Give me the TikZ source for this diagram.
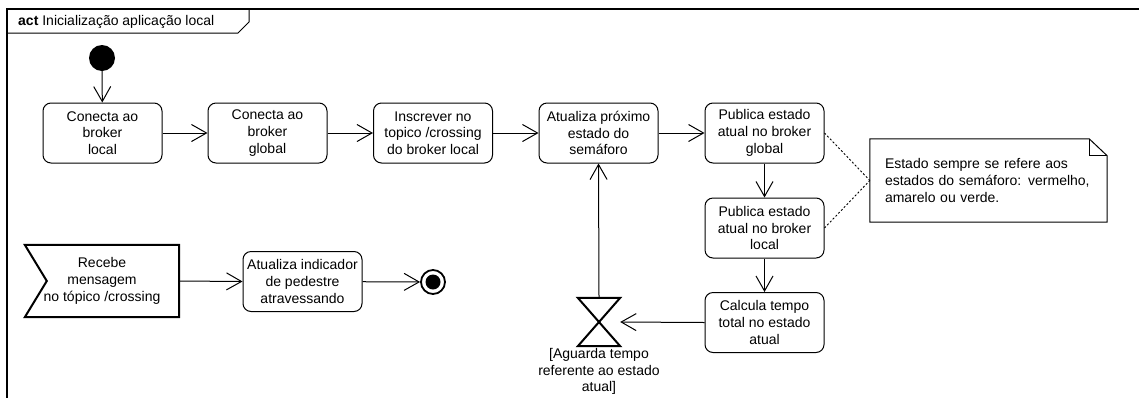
\documentclass[tikz,border=0pt]{standalone}
\usepackage{fontspec}
\setmainfont{Liberation Sans}
\usetikzlibrary{arrows.meta,calc}

\begin{document}
\begin{tikzpicture}[x=1pt,y=-1pt,
  txt/.style={font=\fontsize{14}{16.7}\selectfont},
  action/.style={txt, draw, line width=1pt, rounded corners=8pt,
    minimum width=119pt, minimum height=60pt, inner sep=0pt, align=center},
  flow/.style={line width=1pt, -{Straight Barb[length=15pt,width=17pt,line width=1pt]}},
  anchorline/.style={line width=0.9pt, dash pattern=on 2pt off 2pt},
]
\useasboundingbox (0,0) rectangle (1139,397);

% diagram frame and its name tab
\draw[line width=1.4pt] (7,400) -- (7,9) -- (1142,9);
\draw[line width=1pt] (7,33) -- (238,33) -- (249,22) -- (249,9);
\node[txt, anchor=west, inner sep=0pt] (title) at (18,21.5) {\textbf{act} Inicialização aplicação local};

% initial and final nodes
\node[circle, fill, minimum size=26pt, inner sep=0pt] (init) at (102,58) {};
\node[circle, draw, line width=1.8pt, minimum size=24pt, inner sep=0pt,
  path picture={\fill (path picture bounding box.center) circle (7.5pt);}] (fin) at (433,282) {};

% main flow
\node[action] (b1) at (102.5,133) {Conecta ao\\broker\\local};
\node[action] (b2) at (267.5,133) {Conecta ao\\broker\\global};
\node[action] (b3) at (433,133) {Inscrever no\\topico /crossing\\do broker local};
\node[action] (b4) at (598.5,133) {Atualiza próximo\\estado do\\semáforo};
\node[action] (b5) at (764.5,133) {Publica estado\\atual no broker\\global};
\node[action] (b6) at (764.5,228) {Publica estado\\atual no broker\\local};
\node[action] (b7) at (764.5,322.5) {Calcula tempo\\total no estado\\atual};

% time event (hourglass)
\node[minimum width=42pt, minimum height=48pt, inner sep=0pt] (hg) at (599,322) {};
\draw[line width=2pt, line join=miter] (hg.north west) -- (hg.north east) -- (hg.south west) -- (hg.south east) -- cycle;
\node[txt, anchor=north, align=center, inner sep=0pt] (hglabel) at (599,348) {[Aguarda tempo\\referente ao estado\\atual]};

% accept signal action and pedestrian branch
\node[txt, minimum width=154pt, minimum height=72pt, inner sep=0pt, align=center] (sig) at (102,281) {Recebe\\mensagem\\no tópico /crossing};
\draw[line width=2pt, line join=miter] (sig.north west) -- (sig.north east) -- (sig.south east) -- (sig.south west) -- ($(sig.west)+(22,0)$) -- cycle;
\node[action] (b8) at (302.5,281.5) {Atualiza indicador\\de pedestre\\atravessando};

% comment note
\node[txt, minimum width=237pt, minimum height=83pt, text width=207pt, align=left, inner sep=0pt] (note) at (988.5,180.5)
  {Estado sempre se refere aos\\estados do semáforo: vermelho,\\amarelo ou verde.};
\draw[line width=1pt] (note.north west) -- ($(note.north east)+(-18,0)$) -- ($(note.north east)+(0,17)$)
  -- (note.south east) -- (note.south west) -- cycle;
\draw[line width=0.8pt] ($(note.north east)+(-18,0)$) |- ($(note.north east)+(0,17)$);

% control flow
\draw[flow] (init) -- (b1);
\draw[flow] (b1) -- (b2);
\draw[flow] (b2) -- (b3);
\draw[flow] (b3) -- (b4);
\draw[flow] (b4) -- (b5);
\draw[flow] (b5) -- (b6);
\draw[flow] (b6) -- (b7);
\draw[flow] (b7.west) -- (hg.east);
\draw[flow] (hg.north) -- (b4.south);
\draw[flow] (sig.east) -- (b8.west);
\draw[flow] (b8) -- (fin);

% note anchors
\draw[anchorline] (b5.east) -- (note.west);
\draw[anchorline] (b6.east) -- (note.west);
\end{tikzpicture}
\end{document}
